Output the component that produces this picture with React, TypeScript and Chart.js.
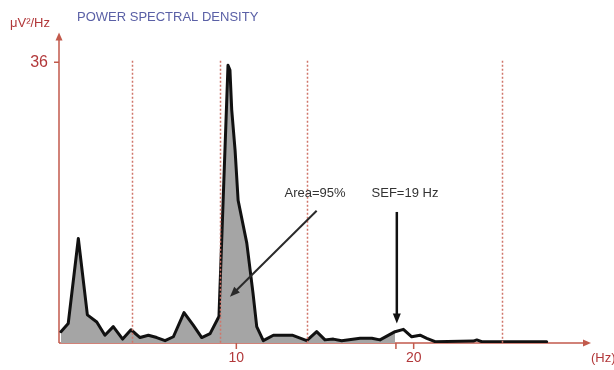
import React, { useEffect, useRef } from "react";
import { Chart, registerables } from "chart.js";

Chart.register(...registerables);

// Frequency (Hz) and power (µV²/Hz)
const freq = [0.11, 0.52, 1.09, 1.6, 2.13, 2.59, 3.06, 3.59, 4.06, 4.57, 5.04, 5.51, 5.98, 6.45, 7.05, 7.57, 8.05, 8.52, 9.02, 9.53, 9.64, 9.74, 9.93, 10.1, 10.59, 10.94, 11.15, 11.52, 12.09, 13.15, 13.97, 14.53, 15.0, 15.47, 15.94, 16.98, 17.64, 18.1, 18.95, 19.42, 19.89, 20.36, 20.74, 21.21, 23.37, 23.56, 23.84, 27.5];
const power = [1.45, 2.5, 13.4, 3.6, 2.7, 1.0, 2.1, 0.5, 1.7, 0.7, 1.0, 0.7, 0.3, 0.8, 3.9, 2.3, 0.7, 1.2, 3.4, 35.6, 35.0, 29.9, 24.7, 18.3, 12.8, 6.4, 2.1, 0.3, 1.0, 1.0, 0.3, 1.45, 0.4, 0.5, 0.3, 0.6, 0.6, 0.4, 1.45, 1.75, 0.8, 1.0, 0.6, 0.17, 0.25, 0.4, 0.17, 0.17];
const bandLines = [4.1, 9.1, 14.0, 25.0];
const xTickLabels = [10, 20];
const yTickLabels = [36];
const sef = 19;
const sefLabel = "SEF=19 Hz";
const areaLabel = "Area=95%";
const areaArrow = { from: [14.53, 16.96], to: [9.64, 5.93] };
const sefArrow = { from: [19.05, 16.8], to: [19.05, 2.5] };
const titleText = "POWER SPECTRAL DENSITY";
const yUnit = "μV²/Hz";
const xUnit = "(Hz)";

const FONT = '"Liberation Sans", Arial, sans-serif';
const AXIS = "#c25a4c";
const LABEL = "#b2383a";

function arrowHead(ctx: CanvasRenderingContext2D, x1: number, y1: number, x2: number, y2: number, len: number, w: number, color: string) {
  const a = Math.atan2(y2 - y1, x2 - x1);
  ctx.save();
  ctx.fillStyle = color;
  ctx.beginPath();
  ctx.moveTo(x2, y2);
  ctx.lineTo(x2 - len * Math.cos(a) + (w / 2) * Math.sin(a), y2 - len * Math.sin(a) - (w / 2) * Math.cos(a));
  ctx.lineTo(x2 - len * Math.cos(a) - (w / 2) * Math.sin(a), y2 - len * Math.sin(a) + (w / 2) * Math.cos(a));
  ctx.closePath();
  ctx.fill();
  ctx.restore();
}

const decorPlugin = {
  id: "decor",
  beforeDatasetsDraw(chart: any) {
    const { ctx, scales } = chart;
    const xs = scales.x, ys = scales.y;
    const x0 = xs.getPixelForValue(0), y0 = ys.getPixelForValue(0);
    const xEnd = xs.getPixelForValue(30), yTop = ys.getPixelForValue(39.8);
    ctx.save();
    ctx.strokeStyle = AXIS;
    ctx.lineWidth = 1.5;
    ctx.beginPath();
    ctx.moveTo(x0, y0);
    ctx.lineTo(x0, yTop + 6);
    ctx.moveTo(x0, y0);
    ctx.lineTo(xEnd - 6, y0);
    ctx.stroke();
    arrowHead(ctx, x0, y0, x0, yTop, 8, 7, AXIS);
    arrowHead(ctx, x0, y0, xEnd, y0, 8, 7, AXIS);
    // ticks
    ctx.beginPath();
    ctx.lineWidth = 1.5;
    [...xTickLabels, sef].forEach((v) => {
      const px = xs.getPixelForValue(v);
      ctx.moveTo(px, y0);
      ctx.lineTo(px, y0 + 6);
    });
    yTickLabels.forEach((v) => {
      const py = ys.getPixelForValue(v);
      ctx.moveTo(x0 - 5, py);
      ctx.lineTo(x0, py);
    });
    ctx.stroke();
    ctx.fillStyle = LABEL;
    ctx.font = `14px ${FONT}`;
    ctx.textAlign = "center";
    ctx.textBaseline = "middle";
    xTickLabels.forEach((v) => ctx.fillText(String(v), xs.getPixelForValue(v), y0 + 15));
    ctx.font = `16px ${FONT}`;
    ctx.textAlign = "right";
    yTickLabels.forEach((v) => ctx.fillText(String(v), x0 - 11, ys.getPixelForValue(v)));
    ctx.font = `13px ${FONT}`;
    ctx.textAlign = "left";
    ctx.fillText(xUnit, xEnd, y0 + 15);
    ctx.fillText(yUnit, 10, 23);
    ctx.fillStyle = "#5a60a6";
    ctx.fillText(titleText, 77, 17);
    ctx.restore();
  },
  afterDatasetsDraw(chart: any) {
    const { ctx, scales } = chart;
    const xs = scales.x, ys = scales.y;
    ctx.save();
    ctx.strokeStyle = "#d0766a";
    ctx.lineWidth = 1.5;
    ctx.setLineDash([2, 2]);
    bandLines.forEach((v) => {
      const px = Math.round(xs.getPixelForValue(v)) + 0.5;
      ctx.beginPath();
      ctx.moveTo(px, ys.getPixelForValue(36.2));
      ctx.lineTo(px, ys.getPixelForValue(0));
      ctx.stroke();
    });
    ctx.setLineDash([]);
    const drawArrow = (a: any, color: string, w: number) => {
      const x1 = xs.getPixelForValue(a.from[0]), y1 = ys.getPixelForValue(a.from[1]);
      const x2 = xs.getPixelForValue(a.to[0]), y2 = ys.getPixelForValue(a.to[1]);
      const ang = Math.atan2(y2 - y1, x2 - x1);
      ctx.strokeStyle = color;
      ctx.lineWidth = w;
      ctx.beginPath();
      ctx.moveTo(x1, y1);
      ctx.lineTo(x2 - 7 * Math.cos(ang), y2 - 7 * Math.sin(ang));
      ctx.stroke();
      arrowHead(ctx, x1, y1, x2, y2, 10, 8, color);
    };
    drawArrow(areaArrow, "#2a2a2a", 2);
    drawArrow(sefArrow, "#111", 2.5);
    ctx.fillStyle = "#333";
    ctx.font = `13px ${FONT}`;
    ctx.textAlign = "center";
    ctx.textBaseline = "middle";
    ctx.fillText(areaLabel, 315, 193);
    ctx.fillText(sefLabel, 405, 193);
    ctx.restore();
  },
};

export default function App() {
  const ref = useRef<HTMLCanvasElement | null>(null);
  useEffect(() => {
    if (!ref.current) return;
    const all = freq.map((f, i) => ({ x: f, y: power[i] }));
    const filled = all.filter((p) => p.x <= sef);
    const chart = new Chart(ref.current, {
      type: "line",
      data: {
        datasets: [
          {
            data: all,
            borderColor: "#111",
            borderWidth: 3,
            borderJoinStyle: "round",
            borderCapStyle: "round",
            fill: false,
            pointRadius: 0,
            tension: 0,
            order: 0,
          } as any,
          {
            data: filled,
            borderWidth: 0,
            borderColor: "rgba(0,0,0,0)",
            backgroundColor: "#a5a5a5",
            fill: "origin",
            pointRadius: 0,
            tension: 0,
            order: 1,
          } as any,
        ],
      },
      options: {
        animation: false,
        responsive: false,
        layout: { padding: { left: 59, right: 23, top: 31, bottom: 27 } },
        plugins: { legend: { display: false }, tooltip: { enabled: false }, title: { display: false } },
        scales: {
          x: { type: "linear", min: 0, max: 30, display: false },
          y: { min: 0, max: 40, display: false },
        },
      },
      plugins: [decorPlugin],
    });
    return () => chart.destroy();
  }, []);
  return (
    <div style={{ position: "absolute", left: 0, top: 0, width: 614, height: 370, background: "#fff" }}>
      <canvas ref={ref} width={614} height={370} style={{ width: 614, height: 370 }} />
    </div>
  );
}
